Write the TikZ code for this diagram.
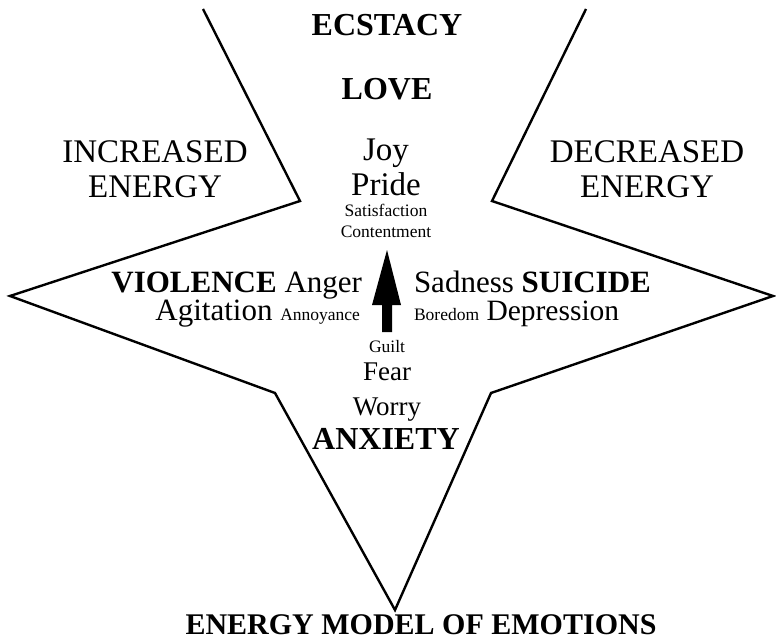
\documentclass[tikz,border=0pt]{standalone}
\usepackage{fontspec}
\setmainfont{Liberation Serif}
\newcommand{\fsBig}{\fontsize{31}{35}\selectfont}
\newcommand{\fsWide}{\fontsize{33}{37}\selectfont}
\newcommand{\fsMid}{\fontsize{27}{31}\selectfont}
\newcommand{\fsSmall}{\fontsize{17.5}{20}\selectfont}
\begin{document}
\begin{tikzpicture}[x=1pt,y=-1pt,
  lbl/.style={inner sep=0pt,outer sep=0pt},
  bigbold/.style={lbl,font=\fontsize{32}{36}\selectfont\bfseries},
  bigreg/.style={lbl,font=\fsBig},
  widereg/.style={lbl,font=\fsWide},
  midreg/.style={lbl,font=\fsMid},
  smallreg/.style={lbl,font=\fsSmall},
  starline/.style={line width=2.4pt,line join=miter,miter limit=20}]
\useasboundingbox (0,0) rectangle (776,639);
% star outline
\coordinate (A) at (203,9);
\coordinate (B) at (300,201);
\coordinate (C) at (10,296);
\coordinate (D) at (275,393);
\coordinate (E) at (395,610);
\coordinate (F) at (491,393);
\coordinate (G) at (773,296);
\coordinate (H) at (492,201);
\coordinate (I) at (586,9);
\draw[starline] (A) -- (B) -- (C) -- (D) -- (E) -- (F) -- (G) -- (H) -- (I);
% arrow
\fill (387,250) -- (401,305) -- (392,305) -- (392,332) -- (382,332) -- (382,305) -- (372,305) -- cycle;
% texts
\node[bigbold,anchor=base] (ecstacy) at (387,36) {ECSTACY};
\node[bigbold,anchor=base] (love) at (387,100) {LOVE};
\node[widereg,anchor=base] (joy) at (386,161) {Joy};
\node[widereg,anchor=base] (pride) at (386,196) {Pride};
\node[smallreg,anchor=base] (satis) at (386,217) {Satisfaction};
\node[smallreg,anchor=base] (content) at (386,237) {Contentment};
\node[widereg,anchor=base] (inc1) at (155,163) {INCREASED};
\node[widereg,anchor=base] (inc2) at (155,198) {ENERGY};
\node[widereg,anchor=base] (dec1) at (647,163) {DECREASED};
\node[widereg,anchor=base] (dec2) at (647,198) {ENERGY};
\node[bigreg,anchor=base east] (viol) at (362,292) {\bfseries VIOLENCE\mdseries{} Anger};
\node[bigreg,anchor=base east] (agit) at (360,320) {Agitation {\fsSmall Annoyance}};
\node[bigreg,anchor=base west] (sui) at (414,292) {Sadness \bfseries SUICIDE};
\node[lbl,font=\fontsize{29.5}{34}\selectfont,anchor=base west] (dep) at (414,320) {{\fsSmall Boredom} Depression};
\node[smallreg,anchor=base] (guilt) at (387,352) {Guilt};
\node[midreg,anchor=base] (fear) at (387,380) {Fear};
\node[midreg,anchor=base] (worry) at (387,415) {Worry};
\node[bigbold,anchor=base] (anx) at (386,449) {ANXIETY};
\node[lbl,font=\fontsize{30}{34}\selectfont\bfseries,anchor=base] (title) at (421,634) {ENERGY MODEL OF EMOTIONS};
\end{tikzpicture}
\end{document}
